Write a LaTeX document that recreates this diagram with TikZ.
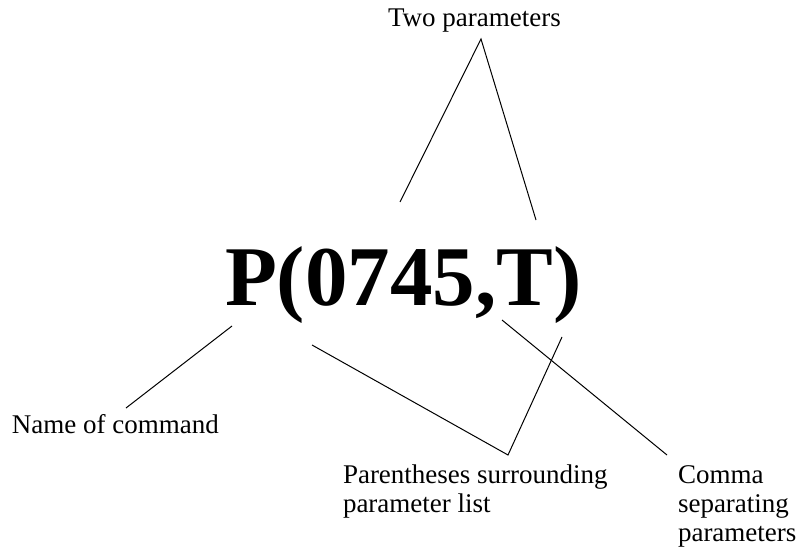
\documentclass[tikz,border=0pt]{standalone}
\usepackage{fontspec}
\setmainfont{Liberation Serif}
\begin{document}
\begin{tikzpicture}[x=1pt,y=-1pt,
  lbl/.style={inner sep=0pt, outer sep=0pt, align=left, font=\fontsize{27}{29}\selectfont},
  big/.style={inner sep=0pt, outer sep=0pt, font=\fontsize{85}{90}\selectfont\bfseries},
  conn/.style={line width=1pt, black}]
\useasboundingbox[fill=white] (0,0) rectangle (802,553);
\node[big, anchor=base west] (cmd) at (225,305) {P(0745,T)};
\node[lbl, anchor=base west] (two) at (388,27) {Two parameters};
\node[lbl, anchor=base west] (name) at (12,433) {Name of command};
\node[lbl, anchor=base west] (paren) at (343,512) {Parentheses surrounding\\parameter list};
\node[lbl, anchor=base west] (comma) at (678,541) {Comma\\separating\\parameters};
% connector points
\coordinate (twoTip) at (481,39);
\coordinate (p1) at (400,202);
\coordinate (p2) at (536,220);
\coordinate (nameA) at (232,326);
\coordinate (nameB) at (126,408);
\coordinate (parL) at (312,345);
\coordinate (parTip) at (508,455);
\coordinate (parR) at (562,337);
\coordinate (comA) at (502,320);
\coordinate (comB) at (667,455);
\draw[conn] (p1) -- (twoTip) -- (p2);
\draw[conn] (nameA) -- (nameB);
\draw[conn] (parL) -- (parTip) -- (parR);
\draw[conn] (comA) -- (comB);
\end{tikzpicture}
\end{document}
